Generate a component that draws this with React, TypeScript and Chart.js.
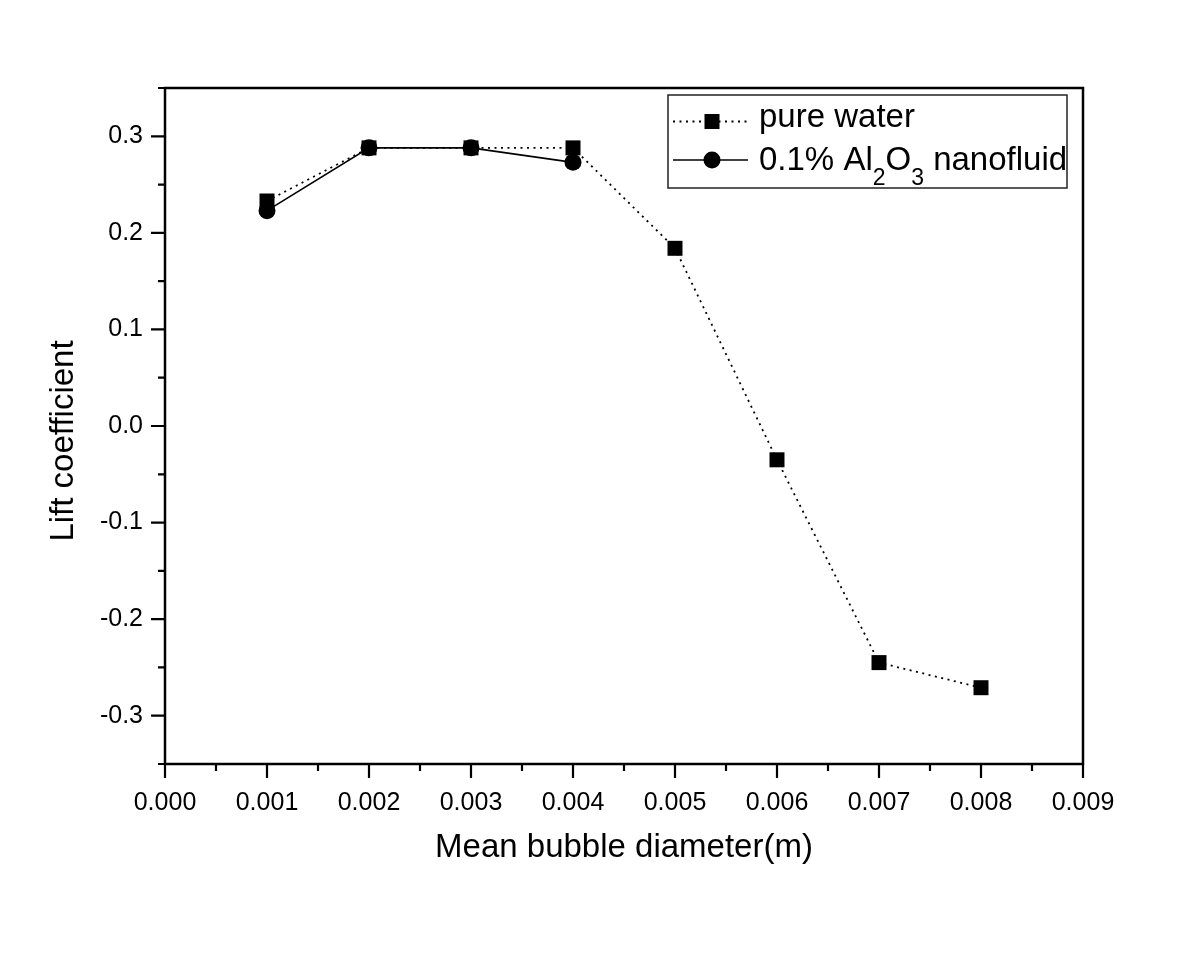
import React, { useEffect, useRef } from "react";
import { Chart, registerables } from "chart.js";

Chart.register(...registerables);

const DIAMETERS = [0.001, 0.002, 0.003, 0.004, 0.005, 0.006, 0.007, 0.008];
const PURE_WATER = [0.233, 0.288, 0.288, 0.288, 0.184, -0.035, -0.245, -0.271];
const NANO_DIAMETERS = [0.001, 0.002, 0.003, 0.004];
const NANOFLUID = [0.223, 0.288, 0.288, 0.273];

const X_MAJOR = [0, 0.001, 0.002, 0.003, 0.004, 0.005, 0.006, 0.007, 0.008, 0.009];
const X_MINOR = [0.0005, 0.0015, 0.0025, 0.0035, 0.0045, 0.0055, 0.0065, 0.0075, 0.0085];
const Y_MAJOR = [-0.3, -0.2, -0.1, 0, 0.1, 0.2, 0.3];
const Y_MINOR = [-0.35, -0.25, -0.15, -0.05, 0.05, 0.15, 0.25, 0.35];

const X_TITLE = "Mean bubble diameter(m)";
const Y_TITLE = "Lift coefficient";
const LEGEND_PURE = "pure water";
const LEGEND_NANO = ["0.1% Al", "2", "O", "3", " nanofluid"];

const FONT = "'Liberation Sans', Arial, sans-serif";

const framePlugin = {
  id: "frameTicksLegend",
  afterDraw(chart: any) {
    const ctx = chart.ctx;
    const { left, right, top, bottom } = chart.chartArea;
    const xs = chart.scales.x;
    const ys = chart.scales.y;
    ctx.save();
    ctx.strokeStyle = "#000";
    ctx.lineWidth = 2.5;
    ctx.strokeRect(left, top, right - left, bottom - top);
    ctx.lineWidth = 2.2;
    ctx.beginPath();
    X_MAJOR.forEach((v) => {
      const p = xs.getPixelForValue(v);
      ctx.moveTo(p, bottom);
      ctx.lineTo(p, bottom + 14);
    });
    X_MINOR.forEach((v) => {
      const p = xs.getPixelForValue(v);
      ctx.moveTo(p, bottom);
      ctx.lineTo(p, bottom + 7);
    });
    Y_MAJOR.forEach((v) => {
      const p = ys.getPixelForValue(v);
      ctx.moveTo(left, p);
      ctx.lineTo(left - 14, p);
    });
    Y_MINOR.forEach((v) => {
      const p = ys.getPixelForValue(v);
      ctx.moveTo(left, p);
      ctx.lineTo(left - 7, p);
    });
    ctx.stroke();

    // axis titles
    ctx.fillStyle = "#000";
    ctx.font = `33px ${FONT}`;
    ctx.textAlign = "center";
    ctx.textBaseline = "alphabetic";
    ctx.fillText(X_TITLE, (left + right) / 2, 857);
    ctx.save();
    ctx.translate(73, 441);
    ctx.rotate(-Math.PI / 2);
    ctx.fillText(Y_TITLE, 0, 0);
    ctx.restore();

    // legend
    const bx = 668, by = 95, bw = 399, bh = 93;
    ctx.lineWidth = 1.5;
    ctx.strokeStyle = "#222";
    ctx.strokeRect(bx, by, bw, bh);

    const r1 = 121.5, r2 = 160;
    ctx.strokeStyle = "#000";
    ctx.lineWidth = 1.8;
    ctx.setLineDash([2, 4.5]);
    ctx.beginPath();
    ctx.moveTo(673, r1);
    ctx.lineTo(748, r1);
    ctx.stroke();
    ctx.setLineDash([]);
    ctx.fillRect(712 - 7.5, r1 - 7.5, 15, 15);
    ctx.lineWidth = 1.6;
    ctx.beginPath();
    ctx.moveTo(673, r2);
    ctx.lineTo(748, r2);
    ctx.stroke();
    ctx.beginPath();
    ctx.arc(712, r2, 8.5, 0, Math.PI * 2);
    ctx.fill();

    ctx.textAlign = "left";
    ctx.font = `33px ${FONT}`;
    ctx.fillText(LEGEND_PURE, 759, 127);
    let tx = 759;
    LEGEND_NANO.forEach((s, i) => {
      const sub = i === 1 || i === 3;
      ctx.font = sub ? `23px ${FONT}` : `33px ${FONT}`;
      ctx.fillText(s, tx, sub ? 185 : 170);
      tx += ctx.measureText(s).width;
    });
    ctx.restore();
  },
};

export default function App() {
  const ref = useRef<HTMLCanvasElement | null>(null);
  useEffect(() => {
    if (!ref.current) return;
    const tickFont = { size: 25, family: FONT };
    const chart = new Chart(ref.current, {
      type: "line",
      data: {
        datasets: [
          {
            label: LEGEND_PURE,
            data: DIAMETERS.map((x, i) => ({ x, y: PURE_WATER[i] })),
            borderColor: "#000",
            backgroundColor: "#000",
            borderWidth: 1.8,
            borderDash: [2, 4.5],
            pointStyle: "rect",
            pointRadius: 10.6,
            pointBorderWidth: 0,
            pointBackgroundColor: "#000",
            order: 1,
          },
          {
            label: "0.1% Al2O3 nanofluid",
            data: NANO_DIAMETERS.map((x, i) => ({ x, y: NANOFLUID[i] })),
            borderColor: "#000",
            backgroundColor: "#000",
            borderWidth: 1.6,
            pointStyle: "circle",
            pointRadius: 8.5,
            pointBorderWidth: 0,
            pointBackgroundColor: "#000",
            order: 0,
          },
        ],
      },
      options: {
        animation: false,
        responsive: false,
        devicePixelRatio: 1,
        layout: { padding: { left: 30, top: 88, right: 117, bottom: 0 } },
        plugins: { legend: { display: false }, tooltip: { enabled: false } },
        scales: {
          x: {
            type: "linear",
            min: 0,
            max: 0.009,
            grid: { display: false, drawTicks: false },
            border: { display: false },
            afterBuildTicks: (s: any) => {
              s.ticks = X_MAJOR.map((v) => ({ value: v }));
            },
            afterFit: (s: any) => {
              s.height = 980 - 764;
            },
            ticks: {
              color: "#000",
              font: tickFont,
              padding: 24,
              maxRotation: 0,
              autoSkip: false,
              callback: (v: any) => Number(v).toFixed(3),
            },
          },
          y: {
            type: "linear",
            min: -0.35,
            max: 0.35,
            grid: { display: false, drawTicks: false },
            border: { display: false },
            afterBuildTicks: (s: any) => {
              s.ticks = Y_MAJOR.map((v) => ({ value: v }));
            },
            afterFit: (s: any) => {
              s.width = 135;
            },
            ticks: {
              color: "#000",
              font: tickFont,
              padding: 22,
              autoSkip: false,
              callback: (v: any) => {
                const n = Number(v);
                return Math.abs(n) < 1e-9 ? "0.0" : n.toFixed(1);
              },
            },
          },
        },
      },
      plugins: [framePlugin],
    });
    return () => chart.destroy();
  }, []);
  return (
    <div style={{ position: "absolute", left: 0, top: 0, width: 1200, height: 980, background: "#fff" }}>
      <canvas ref={ref} width={1200} height={980} style={{ display: "block" }} />
    </div>
  );
}
